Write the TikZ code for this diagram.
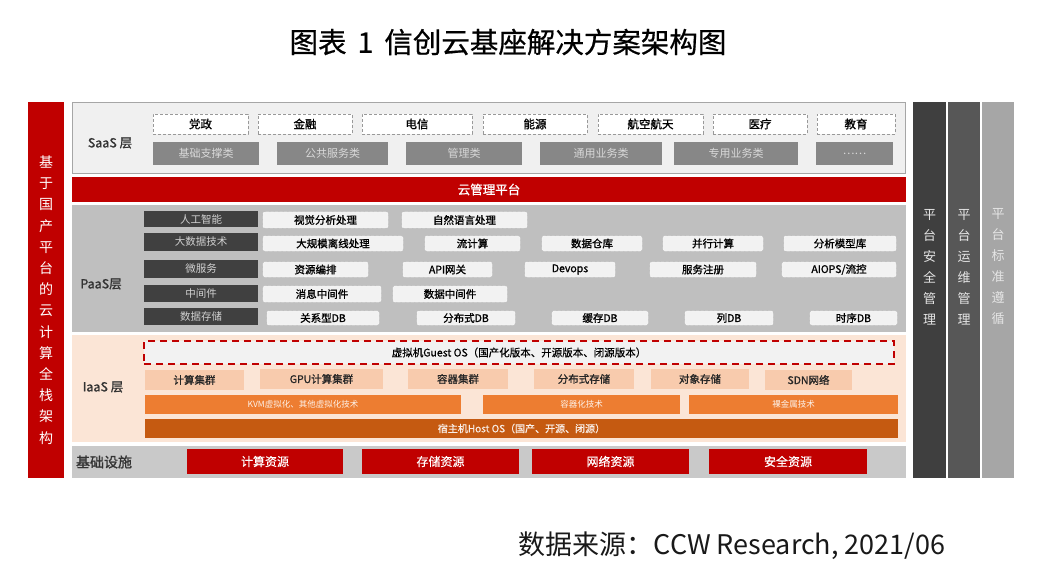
\documentclass[tikz,border=0pt]{standalone}
\usepackage{fontspec}
\setmainfont{Noto Sans CJK SC}
\newfontfamily\mfont{Noto Sans CJK SC}[FakeBold=1.2]
\newfontfamily\hfont{Noto Sans CJK SC}[FakeBold=0.6]
\definecolor{cred}{HTML}{C00000}
\definecolor{saasbg}{HTML}{F0F0F0}
\definecolor{saasln}{HTML}{A6A6A6}
\definecolor{greybox}{HTML}{878787}
\definecolor{paasbg}{HTML}{BFBFBF}
\definecolor{darkbox}{HTML}{404040}
\definecolor{lightbox}{HTML}{F2F2F2}
\definecolor{iaasbg}{HTML}{FBE5D6}
\definecolor{peach}{HTML}{F8CBAD}
\definecolor{orng}{HTML}{ED7D31}
\definecolor{dorng}{HTML}{C55A11}
\definecolor{barA}{HTML}{3F3F3F}
\definecolor{barB}{HTML}{575757}
\definecolor{barC}{HTML}{A6A6A6}
\tikzset{
  base/.style={inner sep=0pt, outer sep=0pt},
  layer/.style={base, draw=none},
  saasdash/.style={base, draw=gray!80, dashed, dash pattern=on 3pt off 2pt, fill=white, font=\mfont\fontsize{11.5}{13}\selectfont},
  saasgrey/.style={base, fill=greybox, text=white!85!black, font=\fontsize{11}{13}\selectfont},
  darklab/.style={base, fill=darkbox, text=white!82!black, font=\fontsize{10.5}{12}\selectfont},
  pitem/.style={base, fill=lightbox, draw=white, dashed, dash pattern=on 3pt off 1.5pt, rounded corners=2pt, font=\mfont\fontsize{10.5}{12}\selectfont},
  pk/.style={base, fill=peach, text=black!85, font=\mfont\fontsize{10.5}{12}\selectfont},
  og/.style={base, fill=orng, text=white!90!orng, font=\fontsize{8.5}{10}\selectfont},
  dog/.style={base, fill=dorng, text=white!90!dorng, font=\hfont\fontsize{10}{12}\selectfont},
  redres/.style={base, fill=cred, text=white, font=\hfont\fontsize{12}{14}\selectfont},
  laylab/.style={base, text=black!80, font=\mfont\fontsize{12.5}{14}\selectfont},
  vtext/.style={base, text=white, align=center, font=\fontsize{14}{21.2}\selectfont},
  vtextb/.style={base, text=white!90!black, align=center, font=\fontsize{13}{21}\selectfont},
}
\newcommand\bx[7]{\node[#2, minimum width={(#5-#3)*1pt}, minimum height={(#6-#4)*1pt}] (#1) at ({(#3+#5)/2},{(#4+#6)/2}) {#7};}
\begin{document}
\begin{tikzpicture}[x=1pt,y=-1pt]
\useasboundingbox[fill=white] (0,0) rectangle (1040,569);
% title and source
\node[base, font=\hfont\fontsize{28.5}{32}\selectfont] (title) at (508,42) {图表\hspace{11pt}1\hspace{11pt}信创云基座解决方案架构图};
\node[base, font=\fontsize{27}{30}\selectfont, text=black!90] (src) at (732,546) {数据来源：CCW Research, 2021/06};
% left bar
\bx{leftbar}{layer, fill=cred}{28}{102}{64}{478}{}
\node[vtext] (lefttxt) at (46,300) {基\\于\\国\\产\\平\\台\\的\\云\\计\\算\\全\\栈\\架\\构};
% right bars
\bx{rbarA}{layer, fill=barA}{913}{102}{946}{478}{}
\bx{rbarB}{layer, fill=barB}{948}{102}{980}{478}{}
\bx{rbarC}{layer, fill=barC}{982}{102}{1014}{478}{}
\node[vtextb] (rtA) at (929.5,267) {平\\台\\安\\全\\管\\理};
\node[vtextb] (rtB) at (964,267) {平\\台\\运\\维\\管\\理};
\node[vtextb] (rtC) at (998,267) {平\\台\\标\\准\\遵\\循};
% SaaS
\bx{saas}{layer, fill=saasbg, draw=saasln, line width=1pt}{72.5}{102.5}{905}{174}{}
\node[laylab] (saaslab) at (110,143) {SaaS\ 层};
\bx{s1}{saasdash}{153}{114}{248}{134}{党政}
\bx{s2}{saasdash}{258}{114}{352}{134}{金融}
\bx{s3}{saasdash}{362}{114}{472}{134}{电信}
\bx{s4}{saasdash}{483}{114}{587}{134}{能源}
\bx{s5}{saasdash}{598}{114}{703}{134}{航空航天}
\bx{s6}{saasdash}{713}{114}{807}{134}{医疗}
\bx{s7}{saasdash}{817}{114}{895}{134}{教育}
\bx{g1}{saasgrey}{153}{142}{259}{165}{基础支撑类}
\bx{g2}{saasgrey}{277}{142}{388}{165}{公共服务类}
\bx{g3}{saasgrey}{406}{142}{522}{165}{管理类}
\bx{g4}{saasgrey}{540}{142}{662}{165}{通用业务类}
\bx{g5}{saasgrey}{674}{142}{798}{165}{专用业务类}
\bx{g6}{saasgrey}{816}{142}{893}{165}{……}
% cloud management
\bx{mgmt}{layer, fill=cred, text=white, font=\hfont\fontsize{12.5}{14}\selectfont}{72}{177}{906}{202}{云管理平台}
% PaaS
\bx{paas}{layer, fill=paasbg}{72}{205}{906}{332}{}
\node[laylab] (paaslab) at (101,284) {PaaS层};
\bx{d1}{darklab}{144}{211}{258}{227}{人工智能}
\bx{d2}{darklab}{144}{233}{258}{251}{大数据技术}
\bx{d3}{darklab}{144}{260}{258}{278}{微服务}
\bx{d4}{darklab}{144}{285}{258}{302}{中间件}
\bx{d5}{darklab}{144}{308}{258}{325}{数据存储}
\bx{p11}{pitem}{263}{212}{388}{228}{视觉分析处理}
\bx{p12}{pitem}{402}{212}{527}{228}{自然语言处理}
\bx{p21}{pitem}{263}{236}{403}{251}{大规模离线处理}
\bx{p22}{pitem}{425}{236}{520}{251}{流计算}
\bx{p23}{pitem}{542}{236}{642}{251}{数据仓库}
\bx{p24}{pitem}{663}{236}{763}{251}{并行计算}
\bx{p25}{pitem}{784}{236}{896}{251}{分析模型库}
\bx{p31}{pitem}{263}{262}{368}{277}{资源编排}
\bx{p32}{pitem}{403}{262}{492}{277}{API网关}
\bx{p33}{pitem}{525}{262}{615}{277}{Devops}
\bx{p34}{pitem}{650}{262}{756}{277}{服务注册}
\bx{p35}{pitem}{782}{262}{896}{277}{AIOPS/流控}
\bx{p41}{pitem}{263}{286}{381}{302}{消息中间件}
\bx{p42}{pitem}{393}{286}{507}{302}{数据中间件}
\bx{p51}{pitem}{267}{311}{379}{325}{关系型DB}
\bx{p52}{pitem}{417}{311}{515}{325}{分布式DB}
\bx{p53}{pitem}{552}{311}{648}{325}{缓存DB}
\bx{p54}{pitem}{685}{311}{773}{325}{列DB}
\bx{p55}{pitem}{810}{311}{897}{325}{时序DB}
% IaaS
\bx{iaas}{layer, fill=iaasbg}{72}{335}{906}{442}{}
\node[laylab] (iaaslab) at (103,387) {IaaS\ 层};
\bx{guest}{base, fill=lightbox, draw=cred, line width=1.8pt, dash pattern=on 7pt off 5pt, font=\hfont\fontsize{10.5}{12}\selectfont}{144}{341}{894}{364}{虚拟机Guest OS（国产化版本、开源版本、闭源版本）}
\bx{k1}{pk}{145}{370}{244}{390}{计算集群}
\bx{k2}{pk}{260}{369}{383}{389}{GPU计算集群}
\bx{k3}{pk}{408}{369}{508}{389}{容器集群}
\bx{k4}{pk}{534}{369}{634}{389}{分布式存储}
\bx{k5}{pk}{651}{369}{749}{389}{对象存储}
\bx{k6}{pk}{765}{370}{852}{390}{SDN网络}
\bx{o1}{og}{145}{395}{461}{414}{KVM虚拟化、其他虚拟化技术}
\bx{o2}{og}{483}{395}{680}{414}{容器化技术}
\bx{o3}{og}{689}{395}{898}{414}{裸金属技术}
\bx{host}{dog}{145}{419}{898}{438}{宿主机Host OS（国产、开源、闭源）}
% infrastructure
\bx{infra}{layer, fill=paasbg!85!white}{72}{446}{906}{478}{}
\node[base, text=black!80, font=\mfont\fontsize{14}{16}\selectfont] (infralab) at (104,462) {基础设施};
\bx{r1}{redres}{187}{449}{343}{474}{计算资源}
\bx{r2}{redres}{362}{449}{519}{474}{存储资源}
\bx{r3}{redres}{532}{449}{689}{474}{网络资源}
\bx{r4}{redres}{709}{449}{867}{474}{安全资源}
\end{tikzpicture}
\end{document}
